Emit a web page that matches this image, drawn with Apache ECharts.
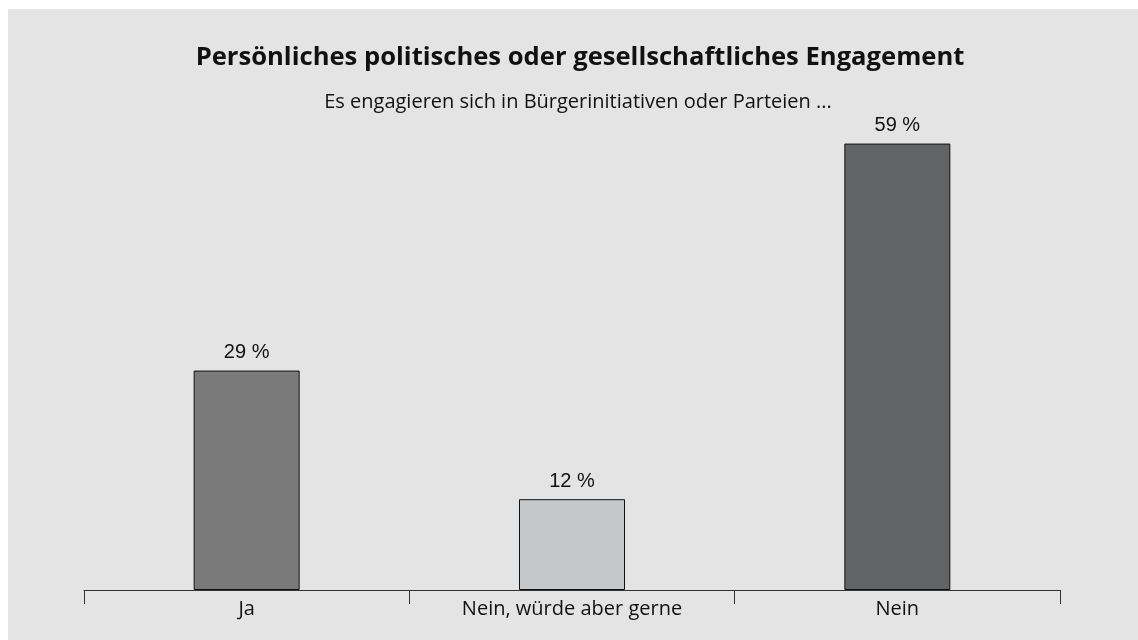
<!DOCTYPE html>
<html>
<head>
<meta charset="utf-8">
<script src="https://cdn.jsdelivr.net/npm/echarts@6/dist/echarts.min.js"></script>
<style>
html,body{margin:0;padding:0;background:#fff;}
#c{width:1138px;height:640px;}
</style>
</head>
<body>
<div id="c"></div>
<script>
const titleText = 'Persönliches politisches oder gesellschaftliches Engagement';
const subtitleText = 'Es engagieren sich in Bürgerinitiativen oder Parteien ...';
const categories = ['Ja', 'Nein, würde aber gerne', 'Nein'];
const values = [29, 12, 59];
const barColors = ['#7a7a7b', '#c6c7c8', '#626364'];

const chart = echarts.init(document.getElementById('c'));
chart.setOption({
  backgroundColor: '#ffffff',
  animation: false,
  graphic: [{
    type: 'rect', z: -10, silent: true,
    shape: {x: 8, y: 9, width: 1130, height: 631},
    style: {fill: '#e3e4e3'}
  }],
  title: [{
    text: titleText,
    left: 575, top: 40, textAlign: 'center',
    textStyle: {fontFamily: 'Open Sans', fontWeight: 'bold', fontSize: 25.6, color: '#111'}
  }, {
    text: subtitleText,
    left: 573, top: 87, textAlign: 'center',
    textStyle: {fontFamily: 'Open Sans', fontWeight: 'normal', fontSize: 20, color: '#111'}
  }],
  grid: {left: 84, right: 78, top: 136, bottom: 50},
  xAxis: {
    type: 'category',
    data: categories,
    axisLine: {lineStyle: {color: '#333', width: 1}},
    axisTick: {show: true, length: 14, lineStyle: {color: '#333'}},
    axisLabel: {fontFamily: 'Open Sans', fontSize: 20, color: '#111', margin: 9}
  },
  yAxis: {
    type: 'value', min: 0, max: 60,
    show: false
  },
  series: [{
    type: 'bar',
    barWidth: 106,
    data: values.map((v, i) => ({value: v, itemStyle: {color: barColors[i]}})),
    itemStyle: {borderColor: '#111', borderWidth: 1},
    label: {
      show: true, position: 'top', distance: 8,
      formatter: '{c} %',
      fontFamily: 'Liberation Sans', fontSize: 20, color: '#111'
    }
  }]
});
</script>
</body>
</html>
